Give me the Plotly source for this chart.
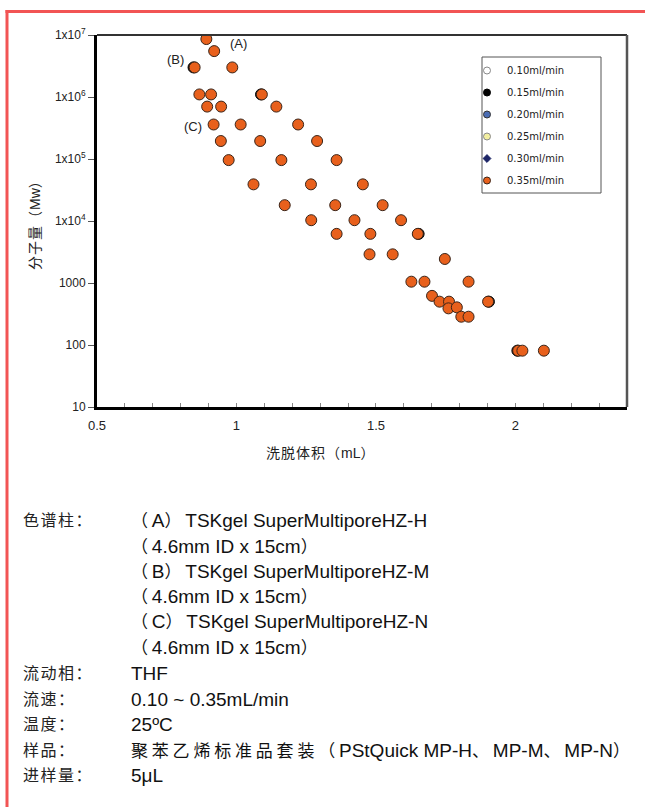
import math
import plotly.graph_objects as go

W, H = 645, 807
# plot-area box in page pixels
L, R, T, B = 97, 627, 35, 407


def px(x):
    return (x - L) / (R - L)


def py(y):
    return (B - y) / (B - T)


# Calibration points, 0.35 mL/min: elution volume (mL) vs molecular weight
vol_035 = [0.892, 0.920, 0.850, 0.985, 0.867, 0.909, 1.091, 0.895, 0.945, 1.143,
           0.918, 1.015, 1.221, 0.944, 1.085, 1.289, 0.972, 1.161, 1.359, 1.061,
           1.267, 1.453, 1.173, 1.354, 1.524, 1.268, 1.423, 1.590, 1.359, 1.480,
           1.650, 1.477, 1.560, 1.747, 1.627, 1.674, 1.832, 1.701, 1.728, 1.762,
           1.902, 1.760, 1.790, 1.806, 1.832, 2.010, 2.025, 2.102]
mw_035 = [8.6e6, 5.5e6, 3.0e6, 3.0e6, 1.1e6, 1.1e6, 1.1e6, 7.0e5, 7.0e5, 7.0e5,
          3.6e5, 3.6e5, 3.6e5, 1.95e5, 1.95e5, 1.95e5, 9.6e4, 9.6e4, 9.6e4, 3.9e4,
          3.9e4, 3.9e4, 1.8e4, 1.8e4, 1.8e4, 1.03e4, 1.03e4, 1.03e4, 6.2e3, 6.2e3,
          6.2e3, 2.9e3, 2.9e3, 2.44e3, 1050, 1050, 1050, 620, 500, 500,
          500, 390, 405, 286, 286, 81, 81, 81]

# 0.15 mL/min points peeking out beside the 0.35 mL/min markers
vol_015 = [0.846, 1.088, 1.653, 1.905, 2.007]
mw_015 = [3.0e6, 1.1e6, 6.2e3, 500, 81]

flow_labels = ["0.10ml/min", "0.15ml/min", "0.20ml/min", "0.25ml/min", "0.30ml/min", "0.35ml/min"]

y_tickvals = [10, 100, 1000, 1e4, 1e5, 1e6, 1e7]
y_ticktext = ["10", "100", "1000", "1x10<sup>4</sup>", "1x10<sup>5</sup>",
              "1x10<sup>6</sup>", "1x10<sup>7</sup>"]
x_tickvals = [0.5, 1, 1.5, 2]
x_ticktext = ["0.5", "1", "1.5", "2"]

column_labels = ["(A)", "(B)", "(C)"]
column_label_x = [1.007, 0.781, 0.845]
column_label_y = [7.2e6, 4.1e6, 3.4e5]

NARROW = "Liberation Sans Narrow, Arial Narrow, Liberation Sans, Arial"
SANS = "Liberation Sans, Arial, Noto Sans CJK SC"
LEG = "DejaVu Sans, Verdana, sans-serif"

fills = {
    "0.10ml/min": ("white", "#888", "circle"),
    "0.15ml/min": ("black", "black", "circle"),
    "0.20ml/min": ("#4a6cb3", "#333", "circle"),
    "0.25ml/min": ("#f3efa0", "#888", "circle"),
    "0.30ml/min": ("#1c2466", "#1c2466", "diamond"),
    "0.35ml/min": ("#e8601c", "#3a2418", "circle"),
}
series = {
    "0.15ml/min": (vol_015, mw_015),
    "0.35ml/min": (vol_035, mw_035),
}

fig = go.Figure()
for name in flow_labels:
    fill, edge, sym = fills[name]
    # legend swatch (small symbol, as in the key box)
    fig.add_trace(go.Scatter(
        x=[None], y=[None], mode="markers", name=name, legendgroup=name,
        marker=dict(color=fill, size=7 if sym == "circle" else 6, symbol=sym,
                    line=dict(color=edge, width=1)),
    ))
    if name in series:
        xs, ys = series[name]
        fig.add_trace(go.Scatter(
            x=xs, y=ys, mode="markers", name=name, legendgroup=name, showlegend=False,
            marker=dict(color=fill, size=11, symbol=sym, line=dict(color=edge, width=1)),
        ))


def mixed(text, cjk_size, spacing):
    """Wrap runs of CJK / full-width characters in a spaced span."""
    out, run = [], ""
    for ch in text:
        if ord(ch) >= 0x2000:
            run += ch
        else:
            if run:
                out.append(f'<span style="font-size:{cjk_size}px;letter-spacing:{spacing}px">{run}</span>')
                run = ""
            out.append(ch)
    if run:
        out.append(f'<span style="font-size:{cjk_size}px;letter-spacing:{spacing}px">{run}</span>')
    return "".join(out)


annotations = []
for lab, lx, ly in zip(column_labels, column_label_x, column_label_y):
    annotations.append(dict(x=lx, y=math.log10(ly), xref="x", yref="y",
                            text=lab, showarrow=False, xanchor="center", yanchor="middle",
                            font=dict(family=NARROW, size=13, color="#222")))

# axis titles
annotations.append(dict(x=px(25), y=py(222), xref="paper", yref="paper",
                        text=mixed("分子量（Mw）", 14, 1), textangle=-90, showarrow=False,
                        font=dict(family=SANS, size=14, color="#222")))
annotations.append(dict(x=px(320), y=py(463), xref="paper", yref="paper",
                        text=mixed("洗脱体积（mL）", 14, 1), showarrow=False,
                        font=dict(family=SANS, size=14, color="#222")))

# conditions block below the chart
cond_rows = [
    ("色谱柱：", "（A）TSKgel SuperMultiporeHZ-H", 520),
    ("", "（4.6mm ID x 15cm）", 546),
    ("", "（B）TSKgel SuperMultiporeHZ-M", 571),
    ("", "（4.6mm ID x 15cm）", 596),
    ("", "（C）TSKgel SuperMultiporeHZ-N", 621),
    ("", "（4.6mm ID x 15cm）", 647),
    ("流动相：", "THF", 673),
    ("流速：", "0.10 ~ 0.35mL/min", 699),
    ("温度：", "25ºC", 724),
    ("样品：", "聚苯乙烯标准品套装（PStQuick MP-H、MP-M、MP-N）", 750),
    ("进样量：", "5μL", 775),
]
for lab, val, yy in cond_rows:
    if lab:
        annotations.append(dict(x=px(21), y=py(yy), xref="paper", yref="paper",
                                text=mixed(lab, 16, 1.5),
                                showarrow=False, xanchor="left", yanchor="middle",
                                font=dict(family=SANS, size=16, color="#222")))
    annotations.append(dict(x=px(129), y=py(yy), xref="paper", yref="paper",
                            text=mixed(val, 17, 3.8),
                            showarrow=False, xanchor="left", yanchor="middle",
                            font=dict(family=SANS, size=19, color="#111")))

shapes = [
    # frame top and right of the plot area
    dict(type="line", xref="paper", yref="paper", x0=0, x1=1, y0=1, y1=1,
         line=dict(color="#333", width=2)),
    dict(type="line", xref="paper", yref="paper", x0=1, x1=1, y0=0, y1=1,
         line=dict(color="#555", width=2.5)),
    # key box
    dict(type="rect", xref="paper", yref="paper", x0=px(482), x1=px(601), y0=py(193), y1=py(57),
         line=dict(color="#555", width=1), fillcolor="white", layer="above"),
    # red page border
    dict(type="line", xref="paper", yref="paper", x0=px(5.5), x1=px(646), y0=py(11.5), y1=py(11.5),
         line=dict(color="#f25454", width=3)),
    dict(type="line", xref="paper", yref="paper", x0=px(7), x1=px(7), y0=py(10), y1=py(808),
         line=dict(color="#f25454", width=3)),
]

fig.update_layout(
    width=W, height=H,
    margin=dict(l=L, r=W - R, t=T, b=H - B, pad=0),
    paper_bgcolor="white", plot_bgcolor="white",
    showlegend=True,
    legend=dict(x=px(482), y=py(56), xanchor="left", yanchor="top",
                bgcolor="rgba(0,0,0,0)", borderwidth=0, indentation=-15,
                font=dict(family=LEG, size=10, color="#222"),
                tracegroupgap=3, itemsizing="trace"),
    annotations=annotations,
    shapes=shapes,
    xaxis=dict(range=[0.5, 2.4], tickvals=x_tickvals, ticktext=x_ticktext,
               ticks="inside", ticklen=4, tickcolor="#888", tickwidth=1,
               minor=dict(dtick=0.1, ticks="inside", ticklen=4, tickcolor="#888"),
               showline=True, linecolor="black", linewidth=2.5, showgrid=False, zeroline=False,
               tickfont=dict(family=NARROW, size=13, color="#222"), ticklabelstandoff=5),
    yaxis=dict(type="log", range=[1, 7], tickvals=y_tickvals, ticktext=y_ticktext,
               ticks="outside", ticklen=6, tickcolor="#555", tickwidth=1,
               showline=True, linecolor="black", linewidth=3, showgrid=False, zeroline=False,
               tickfont=dict(family=NARROW, size=12, color="#222")),
)

fig.write_html("out.html")
